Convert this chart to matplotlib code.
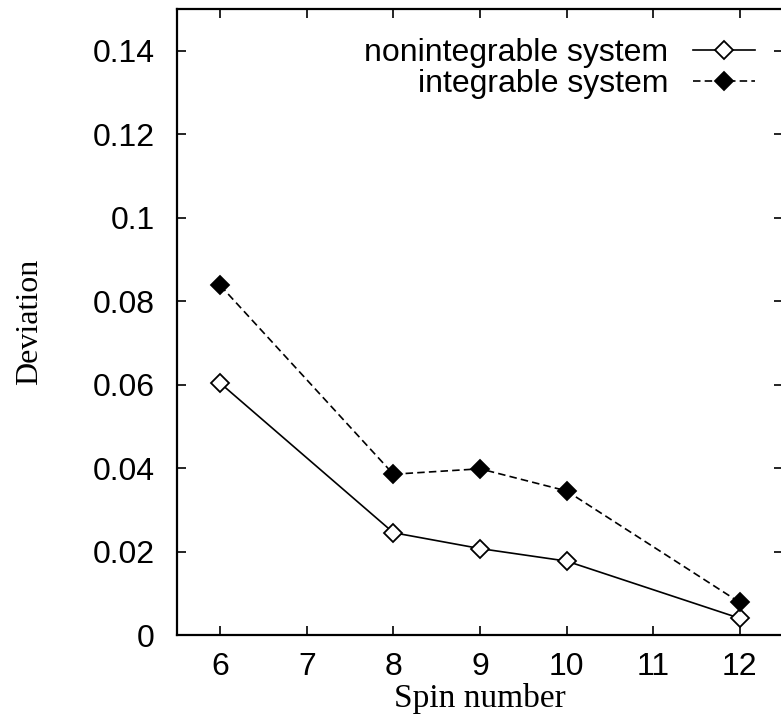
"""
Deviation vs spin number for the nonintegrable and integrable systems.
"""
import matplotlib
matplotlib.use('Agg')
import matplotlib.pyplot as plt
from matplotlib.ticker import FuncFormatter

# data
spins = [6, 8, 9, 10, 12]
dev_nonint = [0.0604, 0.0246, 0.0208, 0.0178, 0.0041]
dev_int = [0.0838, 0.0386, 0.0399, 0.0346, 0.0079]
xticks = [6, 7, 8, 9, 10, 11, 12]
yticks = [0, 0.02, 0.04, 0.06, 0.08, 0.1, 0.12, 0.14]

sans = 'Liberation Sans'
serif = 'Liberation Serif'

fig = plt.figure(figsize=(7.81, 7.18), dpi=100)
ax = fig.add_axes([0.2266, 0.115, 0.776, 0.8725])

ax.plot(spins, dev_nonint, color='black', lw=1.2, marker='D', ms=9.5,
        mfc='white', mec='black', mew=1.3, label='nonintegrable system')
ax.plot(spins, dev_int, color='black', lw=1.2, ls=(0, (4.5, 2.5)), marker='D', ms=9.5,
        mfc='black', mec='black', mew=1.3, label='integrable system')

ax.set_xlim(5.5, 12.5)
ax.set_ylim(0, 0.15)
ax.set_xticks(xticks)
ax.set_yticks(yticks)
ax.yaxis.set_major_formatter(FuncFormatter(lambda v, p: '%g' % v))

for s in ax.spines.values():
    s.set_linewidth(1.6)
ax.tick_params(direction='in', length=6.5, width=1.2, top=True, right=True)
ax.tick_params(axis='x', pad=12)
ax.tick_params(axis='y', pad=16)
for lab in ax.get_xticklabels() + ax.get_yticklabels():
    lab.set_fontfamily(sans)
    lab.set_fontsize(23)

ax.set_xlabel('Spin number', family=serif, fontsize=24)
ax.set_ylabel('Deviation', family=serif, fontsize=23)
ax.xaxis.set_label_coords(0.5, -0.076)
ax.yaxis.set_label_coords(-0.219, 0.5)

ax.legend(loc='upper right', bbox_to_anchor=(0.954, 0.953), frameon=False,
          markerfirst=False, numpoints=1, handlelength=1.94, handletextpad=0.78,
          labelspacing=0.02, borderpad=0, borderaxespad=0,
          prop={'family': sans, 'size': 23})

fig.savefig('out.png', dpi=100)
